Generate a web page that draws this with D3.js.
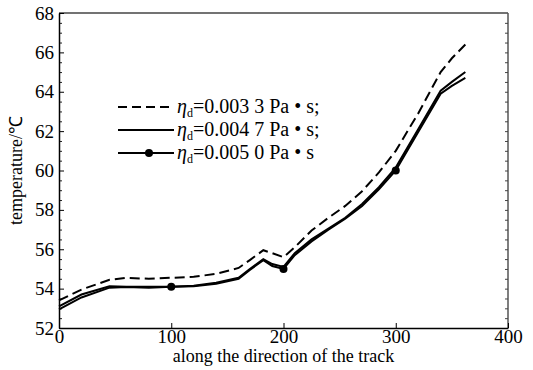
<!DOCTYPE html>
<html>
<head>
<meta charset="utf-8">
<script src="https://cdn.jsdelivr.net/npm/d3@7"></script>
<style>
  body { margin: 0; background: #fff; }
  text { font-family: "Liberation Serif", "Times New Roman", serif; }
</style>
</head>
<body>
<script>
// distance along the track
var trackPos = [0, 20, 45, 60, 80, 100, 120, 140, 160, 170, 182, 190, 200, 210, 225, 240, 255, 270, 285, 300, 320, 340, 350, 362];

// temperature for each viscosity
var temp0033 = [53.4, 53.95, 54.45, 54.55, 54.5, 54.55, 54.6, 54.75, 55.05, 55.45, 55.95, 55.8, 55.6, 56.1, 56.95, 57.6, 58.2, 58.95, 59.9, 61.0, 62.9, 65.0, 65.7, 66.4];
var temp0047 = [53.1, 53.7, 54.12, 54.1, 54.1, 54.1, 54.15, 54.3, 54.55, 55.0, 55.5, 55.25, 55.1, 55.8, 56.5, 57.05, 57.6, 58.3, 59.15, 60.15, 62.1, 64.05, 64.5, 65.0];
var temp0050 = [52.95, 53.55, 54.05, 54.08, 54.05, 54.1, 54.12, 54.25, 54.5, 54.95, 55.45, 55.15, 55.0, 55.7, 56.4, 57.0, 57.55, 58.2, 59.05, 60.0, 61.95, 63.9, 64.3, 64.7];
var markerPos = [100, 200, 300];

var legendLabels = ["=0.003 3 Pa \u2022 s;", "=0.004 7 Pa \u2022 s;", "=0.005 0 Pa \u2022 s"];

var xTicks = [0, 100, 200, 300, 400];
var yTicks = [52, 54, 56, 58, 60, 62, 64, 66, 68];

var serif = "Liberation Serif, Times New Roman, serif";

var width = 533, height = 370;
var margin = {left: 59, right: 25, top: 13, bottom: 42};
var plotW = width - margin.left - margin.right;
var plotH = height - margin.top - margin.bottom;

var svg = d3.select("body").append("svg")
    .attr("width", width)
    .attr("height", height)
    .attr("font-family", serif);

var x = d3.scaleLinear().domain([0, 400]).range([0, plotW]);
var y = d3.scaleLinear().domain([52, 68]).range([plotH, 0]);

var g = svg.append("g")
    .attr("transform", "translate(" + margin.left + "," + margin.top + ")");

// frame: top and right a little lighter
g.append("line").attr("x1", 0).attr("x2", plotW).attr("y1", 0).attr("y2", 0)
    .attr("stroke", "#444").attr("stroke-width", 1.5);
g.append("line").attr("x1", plotW).attr("x2", plotW).attr("y1", 0).attr("y2", plotH)
    .attr("stroke", "#555").attr("stroke-width", 1.5);

// minor ticks every half degree, left and right
var minorVals = d3.range(52.5, 68, 0.5).filter(function(v) { return v % 2 !== 0; });
g.append("g")
    .call(d3.axisLeft(y).tickValues(minorVals).tickSize(-3).tickFormat(""))
    .call(function(s) { s.select(".domain").remove(); s.selectAll("line").attr("stroke", "#222"); });
g.append("g")
    .attr("transform", "translate(" + plotW + ",0)")
    .call(d3.axisRight(y).tickValues(d3.range(52.5, 68, 0.5)).tickSize(-3).tickFormat(""))
    .call(function(s) { s.select(".domain").remove(); s.selectAll("line").attr("stroke", "#444"); });

// left axis
var yAxis = g.append("g")
    .call(d3.axisLeft(y).tickValues(yTicks).tickSize(-5).tickPadding(5).tickSizeOuter(0))
    .attr("font-family", serif);
yAxis.select(".domain").attr("stroke", "#000").attr("stroke-width", 1.5);
yAxis.selectAll("text").attr("font-size", 19).attr("fill", "#000");

// bottom axis
var xAxis = g.append("g")
    .attr("transform", "translate(0," + plotH + ")")
    .call(d3.axisBottom(x).tickValues(xTicks).tickSize(-5).tickPadding(1).tickSizeOuter(0))
    .attr("font-family", serif);
xAxis.select(".domain").attr("stroke", "#000").attr("stroke-width", 1.5);
xAxis.selectAll("text").attr("font-size", 19).attr("fill", "#000");

// axis titles
svg.append("text")
    .attr("transform", "translate(22," + (margin.top + plotH / 2) + ") rotate(-90)")
    .attr("text-anchor", "middle")
    .attr("font-size", 18)
    .text("temperature/\u2103");

svg.append("text")
    .attr("x", margin.left + plotW / 2)
    .attr("y", 362)
    .attr("text-anchor", "middle")
    .attr("font-size", 18)
    .text("along the direction of the track");

// curves
var line = d3.line()
    .x(function(d) { return x(d[0]); })
    .y(function(d) { return y(d[1]); });

function pairs(vals) {
    return trackPos.map(function(p, i) { return [p, vals[i]]; });
}

g.append("path").datum(pairs(temp0033))
    .attr("d", line).attr("fill", "none")
    .attr("stroke", "#000").attr("stroke-width", 2)
    .attr("stroke-dasharray", "10,5");

g.append("path").datum(pairs(temp0047))
    .attr("d", line).attr("fill", "none")
    .attr("stroke", "#000").attr("stroke-width", 2);

g.append("path").datum(pairs(temp0050))
    .attr("d", line).attr("fill", "none")
    .attr("stroke", "#000").attr("stroke-width", 2);

g.selectAll("circle.mark")
    .data(markerPos)
    .enter().append("circle")
    .classed("mark", true)
    .attr("cx", function(d) { return x(d); })
    .attr("cy", function(d) { return y(temp0050[trackPos.indexOf(d)]); })
    .attr("r", 4)
    .attr("fill", "#000");

// legend
var legend = svg.append("g");
var rowY = [107, 130, 153];
legendLabels.forEach(function(lbl, i) {
    var ln = legend.append("line")
        .attr("x1", 118).attr("x2", 174)
        .attr("y1", rowY[i]).attr("y2", rowY[i])
        .attr("stroke", "#000").attr("stroke-width", 2);
    if (i === 0) ln.attr("stroke-dasharray", "9,5");
    if (i === 2) {
        legend.append("circle").attr("cx", 149).attr("cy", rowY[i]).attr("r", 4).attr("fill", "#000");
    }
    var t = legend.append("text")
        .attr("x", 177)
        .attr("y", rowY[i] + 6)
        .attr("font-size", 20);
    t.append("tspan").attr("font-style", "italic").text("\u03b7");
    t.append("tspan").attr("font-size", 12).attr("dy", 4).text("d");
    t.append("tspan").attr("dy", -4).text(lbl);
});
</script>
</body>
</html>
